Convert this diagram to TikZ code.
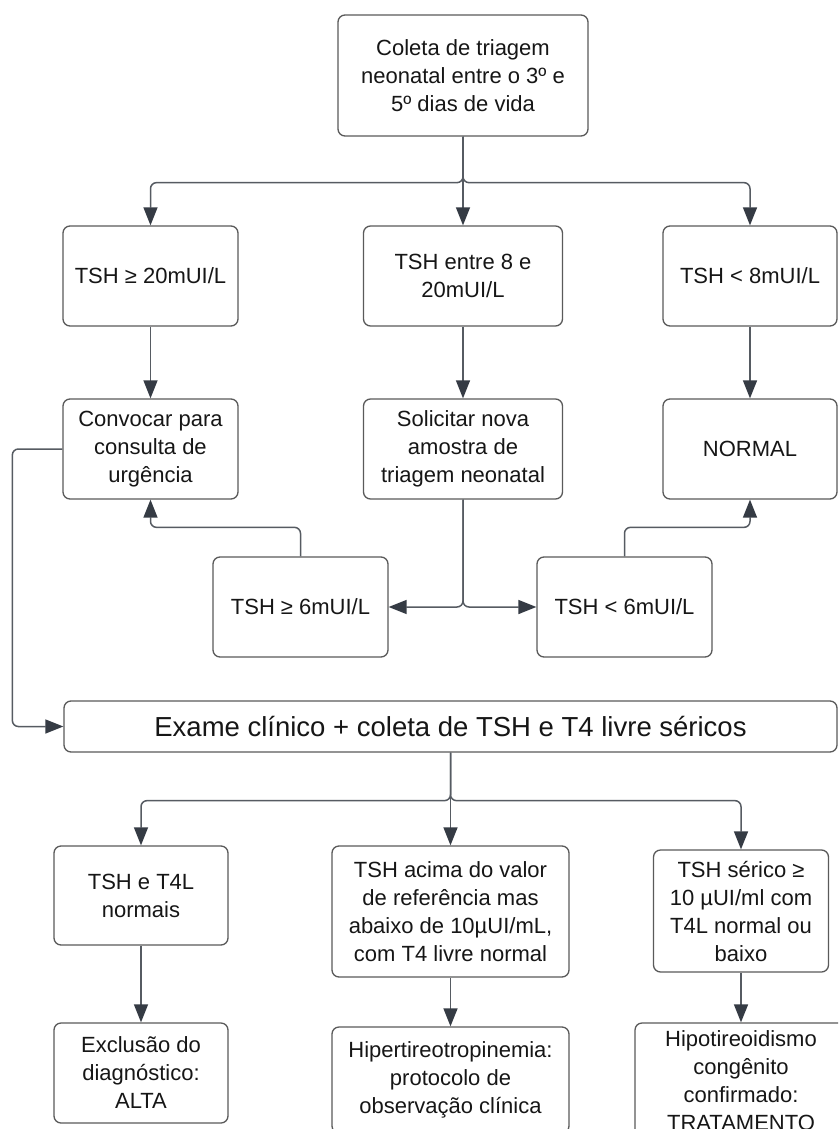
\documentclass[tikz,border=0pt]{standalone}
\usepackage{fontspec}
\setmainfont{Liberation Sans}
\usetikzlibrary{arrows.meta}
\definecolor{linegray}{HTML}{565B62}
\definecolor{tipgray}{HTML}{353B44}
\definecolor{boxgray}{HTML}{5A5A5A}
\definecolor{textgray}{HTML}{161616}

\begin{document}
\begin{tikzpicture}[
  x=1pt,
  y=-1pt,
  every node/.style={font=\fontsize{22}{28}\selectfont, text=textgray},
  stepbox/.style={draw=boxgray, line width=1.3pt, rounded corners=7pt, align=center, inner sep=0pt},
  flow/.style={draw=linegray, line width=1.5pt, rounded corners=6pt,
    -{Triangle[length=18pt, width=14pt, color=tipgray]}}
]
  % Coordinate system: pixels of the page, y grows downwards.
  \useasboundingbox (0,0) rectangle (838,1129);
  \clip (0,0) rectangle (838,1129);
  \fill[white] (0,0) rectangle (838,1129);

  % Screening.
  \node[stepbox, minimum width=250pt, minimum height=121pt] (collect) at (463,75.5)
    {Coleta de triagem\\neonatal entre o 3º e\\5º dias de vida};

  % TSH bands.
  \node[stepbox, minimum width=175pt, minimum height=100pt] (high) at (150.5,276) {TSH ≥ 20mUI/L};
  \node[stepbox, minimum width=199pt, minimum height=100pt] (mid) at (463,276) {TSH entre 8 e\\20mUI/L};
  \node[stepbox, minimum width=174pt, minimum height=100pt] (low) at (750,276) {TSH < 8mUI/L};

  % First actions.
  \node[stepbox, minimum width=175pt, minimum height=100pt] (urgent) at (150.5,449)
    {Convocar para\\consulta de\\urgência};
  \node[stepbox, minimum width=199pt, minimum height=100pt] (resample) at (463,449)
    {Solicitar nova\\amostra de\\triagem neonatal};
  \node[stepbox, minimum width=174pt, minimum height=100pt] (normal) at (750,449) {NORMAL};

  % Second sample.
  \node[stepbox, minimum width=175pt, minimum height=100pt] (retestHigh) at (300.5,607) {TSH ≥ 6mUI/L};
  \node[stepbox, minimum width=175pt, minimum height=100pt] (retestLow) at (624.5,607) {TSH < 6mUI/L};

  % Confirmation.
  \node[stepbox, minimum width=773pt, minimum height=51pt, font=\fontsize{27.5}{33}\selectfont]
    (exam) at (450.5,726.5) {Exame clínico + coleta de TSH e T4 livre séricos};

  % Results.
  \node[stepbox, minimum width=174pt, minimum height=99pt] (normalT4) at (141,895.5) {TSH e T4L\\normais};
  \node[stepbox, minimum width=237pt, minimum height=131pt] (subclin) at (450.5,911.5)
    {TSH acima do valor\\de referência mas\\abaixo de 10µUI/mL,\\com T4 livre normal};
  \node[stepbox, minimum width=175pt, minimum height=122pt] (confirmT4) at (741,911)
    {TSH sérico ≥\\10 µUI/ml com\\T4L normal ou\\baixo};

  % Outcomes.
  \node[stepbox, minimum width=174pt, minimum height=100pt] (discharge) at (141,1073)
    {Exclusão do\\diagnóstico:\\ALTA};
  \node[stepbox, minimum width=237pt, minimum height=106pt] (observe) at (450.5,1080)
    {Hipertireotropinemia:\\protocolo de\\observação clínica};
  \node[stepbox, minimum width=212pt, minimum height=116pt] (treat) at (741,1081)
    {Hipotireoidismo\\congênito\\confirmado:\\TRATAMENTO};

  % Connectors, upper part.
  \draw[flow] (collect.south) -- ++(0,46) -| (high.north);
  \draw[flow] (collect.south) -- (mid.north);
  \draw[flow] (collect.south) -- ++(0,46) -| (low.north);
  \draw[flow] (high) -- (urgent);
  \draw[flow] (mid) -- (resample);
  \draw[flow] (low) -- (normal);
  \draw[flow] (resample.south) |- (retestHigh.east);
  \draw[flow] (resample.south) |- (retestLow.west);
  \draw[flow] (retestHigh.north) -- ++(0,-29) -| (urgent.south);
  \draw[flow] (retestLow.north) -- ++(0,-29) -| (normal.south);
  \draw[flow] (urgent.west) -- ++(-50,0) |- (exam.west);

  % Connectors, lower part.
  \draw[flow] (exam.south) -- ++(0,48) -| (normalT4.north);
  \draw[flow] (exam.south) -- (subclin.north);
  \draw[flow] (exam.south) -- ++(0,48) -| (confirmT4.north);
  \draw[flow] (normalT4) -- (discharge);
  \draw[flow] (subclin) -- (observe);
  \draw[flow] (confirmT4) -- (treat);
\end{tikzpicture}
\end{document}
